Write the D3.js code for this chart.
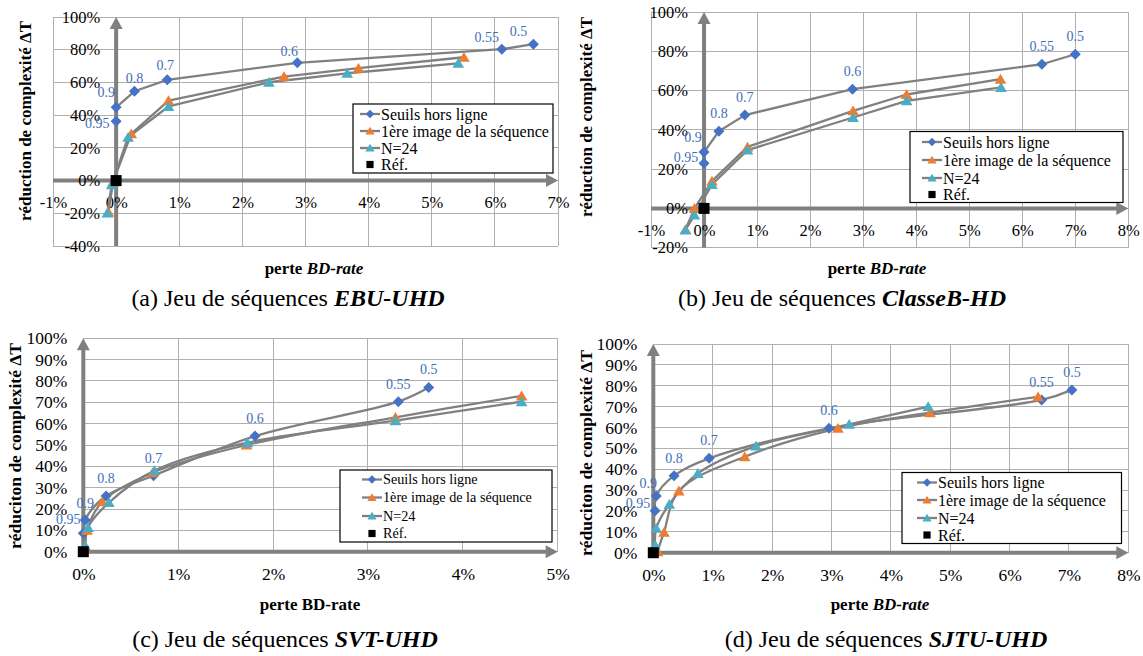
<!DOCTYPE html>
<html><head><meta charset="utf-8">
<script src="https://cdn.jsdelivr.net/npm/d3@7"></script>
<style>
body{margin:0;background:#fff}
text{font-family:"Liberation Serif","Times New Roman",serif}
</style>
</head><body>
<svg id="chart" width="1143" height="656" font-family="Liberation Serif, Times New Roman, serif"></svg>
<script>
// ---------------- DATA ----------------
const seriesNames = ["Seuils hors ligne", "1ère image de la séquence", "N=24", "Réf."];
const thresholdLabels = ["0.95", "0.9", "0.8", "0.7", "0.6", "0.55", "0.5"];
const refX = [0];
const refY = [0];

// (a) EBU-UHD
const ebuXTicks = [-1, 0, 1, 2, 3, 4, 5, 6, 7];
const ebuYTicks = [-40, -20, 0, 20, 40, 60, 80, 100];
const ebuSeuilsX = [0, 0, 0.29, 0.81, 2.87, 6.11, 6.61];
const ebuSeuilsY = [36.3, 44.8, 54.6, 61.6, 72.0, 80.3, 83.4];
const ebuPremiereX = [-0.12, -0.05, 0.24, 0.83, 2.66, 3.84, 5.51];
const ebuPremiereY = [-19.4, -1, 28.6, 48.9, 63.6, 68.7, 75.4];
const ebuN24X = [-0.14, -0.07, 0.19, 0.83, 2.42, 3.66, 5.42];
const ebuN24Y = [-19.8, -2.6, 26.5, 45.3, 60.1, 65.6, 71.7];

// (b) ClasseB-HD
const clbXTicks = [-1, 0, 1, 2, 3, 4, 5, 6, 7, 8];
const clbYTicks = [-20, 0, 20, 40, 60, 80, 100];
const clbSeuilsX = [0, 0, 0.28, 0.77, 2.8, 6.37, 7.0];
const clbSeuilsY = [23, 28.7, 39.3, 47.5, 60.7, 73.4, 78.5];
const clbPremiereX = [-0.35, -0.18, 0.15, 0.82, 2.81, 3.82, 5.59];
const clbPremiereY = [-10.7, 0, 13.9, 31.3, 49.7, 58, 65.8];
const clbN24X = [-0.35, -0.18, 0.15, 0.82, 2.81, 3.82, 5.6];
const clbN24Y = [-11, -3.4, 12.2, 29.7, 46.3, 54.8, 61.6];

// (c) SVT-UHD
const svtXTicks = [0, 1, 2, 3, 4, 5];
const svtYTicks = [0, 10, 20, 30, 40, 50, 60, 70, 80, 90, 100];
const svtSeuilsX = [0, 0.02, 0.24, 0.74, 1.81, 3.32, 3.64];
const svtSeuilsY = [8.6, 14.9, 26.1, 35.6, 54.2, 70.3, 76.9];
const svtPremiereX = [0.02, 0.04, 0.2, 0.73, 1.72, 3.29, 4.62];
const svtPremiereY = [1, 10, 23.4, 37, 50, 63, 73];
const svtN24X = [0.02, 0.05, 0.27, 0.75, 1.73, 3.29, 4.62];
const svtN24Y = [2.8, 11.4, 23, 38, 51.1, 61.4, 70.3];

// (d) SJTU-UHD
const sjtuXTicks = [0, 1, 2, 3, 4, 5, 6, 7, 8];
const sjtuYTicks = [0, 10, 20, 30, 40, 50, 60, 70, 80, 90, 100];
const sjtuSeuilsX = [0.03, 0.05, 0.35, 0.94, 2.96, 6.54, 7.05];
const sjtuSeuilsY = [20.1, 27.2, 36.9, 45.2, 59.6, 73.2, 78];
const sjtuPremiereX = [0.07, 0.18, 0.43, 1.54, 3.11, 4.66, 6.48];
const sjtuPremiereY = [0.5, 9.8, 29.6, 46, 59.6, 67.1, 74.7];
const sjtuN24X = [0.03, 0.05, 0.27, 0.75, 1.73, 3.3, 4.63];
const sjtuN24Y = [3.7, 11.7, 23.2, 38, 51.1, 61.5, 70];

// ---------------- STYLE / LAYOUT ----------------
const COL = {blue: "#4472C4", orange: "#ED7D31", cyan: "#4BACC6", line: "#808080", grid: "#b0b0b0", axis: "#808080", label: "#4170B8"};

const panels = [
  {
    xr: [53, 558], yr: [246, 17], xTicks: ebuXTicks, yTicks: ebuYTicks,
    series: [[ebuSeuilsX, ebuSeuilsY], [ebuPremiereX, ebuPremiereY], [ebuN24X, ebuN24Y]],
    smooth: false, tickFont: 16.5,
    legend: {x: 353, y: 104, w: 200, h: 69, lx: 360, rows: [114, 131, 148, 164.5], font: 16},
    yTitle: {x: 25, y: 121, text: "réduction de complexité ΔT", size: 17},
    xTitle: {x: 314, y: 274, italic: true, size: 17},
    caption: {x: 288, y: 306, prefix: "(a) Jeu de séquences ", name: "EBU-UHD"},
    labelOff: {"0.95": [-19, 2], "0.9": [-10, -15], "0.8": [0, -13], "0.7": [-2, -15], "0.6": [-8, -12], "0.55": [-15, -12], "0.5": [-15, -13]}
  },
  {
    xr: [651, 1128.3], yr: [247.7, 12], xTicks: clbXTicks, yTicks: clbYTicks,
    series: [[clbSeuilsX, clbSeuilsY], [clbPremiereX, clbPremiereY], [clbN24X, clbN24Y]],
    smooth: false, tickFont: 16.5,
    legend: {x: 910, y: 131.5, w: 213, h: 71, lx: 922, rows: [142, 160, 178, 194.5], font: 16},
    yTitle: {x: 586, y: 117, text: "réduction de complexité ΔT", size: 17},
    xTitle: {x: 877, y: 274, italic: true, size: 17},
    caption: {x: 842, y: 306, prefix: "(b) Jeu de séquences ", name: "ClasseB-HD"},
    labelOff: {"0.95": [-18, -6], "0.9": [-11, -15]}
  },
  {
    xr: [83.3, 557.7], yr: [551.7, 338.3], xTicks: svtXTicks, yTicks: svtYTicks,
    series: [[svtSeuilsX, svtSeuilsY], [svtPremiereX, svtPremiereY], [svtN24X, svtN24Y]],
    smooth: true, tickFont: 17.5,
    legend: {x: 340, y: 470, w: 212, h: 72, lx: 362, rows: [479.5, 497.5, 516, 533.5], font: 14.2},
    yTitle: {x: 15, y: 446, text: "réduciton de complexité ΔT", size: 17.5},
    xTitle: {x: 310, y: 610, italic: false, size: 17},
    caption: {x: 285, y: 647, prefix: "(c) Jeu de séquences ", name: "SVT-UHD"},
    labelOff: {"0.95": [-15, -14], "0.9": [0, -17]}
  },
  {
    xr: [653.3, 1128.3], yr: [552.7, 344], xTicks: sjtuXTicks, yTicks: sjtuYTicks,
    series: [[sjtuSeuilsX, sjtuSeuilsY], [sjtuPremiereX, sjtuPremiereY], [sjtuN24X, sjtuN24Y]],
    smooth: true, tickFont: 17.5,
    legend: {x: 902, y: 472.5, w: 219.5, h: 71, lx: 917, rows: [482.5, 500, 518, 535], font: 16},
    yTitle: {x: 586, y: 453, text: "réduciton de complexité ΔT", size: 17.5},
    xTitle: {x: 880, y: 610, italic: true, size: 17},
    caption: {x: 886, y: 647, prefix: "(d) Jeu de séquences ", name: "SJTU-UHD"},
    labelOff: {"0.95": [-17, -8], "0.9": [-8, -13]}
  }
];

const seriesColors = [COL.blue, COL.orange, COL.cyan];
const seriesShapes = ["diamond", "triangle", "triangle"];

function markerPath(shape, r) {
  if (shape === "diamond") return `M0,${-r}L${r},0L0,${r}L${-r},0Z`;
  if (shape === "triangle") return `M0,${-r}L${r * 1.1},${r * 0.85}L${-r * 1.1},${r * 0.85}Z`;
  return `M${-r},${-r}H${r}V${r}H${-r}Z`;
}

const svg = d3.select("#chart");
svg.append("rect").attr("width", 1143).attr("height", 656).attr("fill", "#fff");

panels.forEach(p => {
  const g = svg.append("g");
  const x = d3.scaleLinear().domain(d3.extent(p.xTicks)).range(p.xr);
  const y = d3.scaleLinear().domain(d3.extent(p.yTicks)).range(p.yr);
  const [x0, x1] = p.xr, [yb, yt] = p.yr;

  // grid
  const grid = g.append("g").attr("stroke", COL.grid).attr("stroke-width", 1).attr("shape-rendering", "crispEdges");
  p.xTicks.forEach(t => grid.append("line").attr("x1", x(t)).attr("x2", x(t)).attr("y1", yb).attr("y2", yt));
  p.yTicks.forEach(t => grid.append("line").attr("x1", x0).attr("x2", x1).attr("y1", y(t)).attr("y2", y(t)));

  // axis arrows
  const ax = g.append("g").attr("fill", COL.axis).attr("stroke", COL.axis);
  const xz = x(0), yz = y(0), head = 12, hw = 6.5;
  ax.append("line").attr("x1", xz).attr("x2", xz).attr("y1", yb).attr("y2", yt + head - 1).attr("stroke-width", 4);
  ax.append("path").attr("stroke", "none").attr("d", `M${xz},${yt}L${xz + hw},${yt + head}L${xz - hw},${yt + head}Z`);
  ax.append("line").attr("x1", x0).attr("x2", x1 - head + 1).attr("y1", yz).attr("y2", yz).attr("stroke-width", 4);
  ax.append("path").attr("stroke", "none").attr("d", `M${x1},${yz}L${x1 - head},${yz - hw}L${x1 - head},${yz + hw}Z`);

  // tick labels
  const yAx = g.append("g").attr("transform", `translate(${xz},0)`)
    .call(d3.axisLeft(y).tickValues(p.yTicks).tickFormat(d => d + "%").tickSize(0).tickPadding(16));
  yAx.select(".domain").remove();
  yAx.attr("font-family", null).attr("font-size", null);
  yAx.selectAll("text").attr("font-size", p.tickFont).attr("fill", "#000");

  const xAx = g.append("g").attr("transform", `translate(0,${yz})`)
    .call(d3.axisBottom(x).tickValues(p.xTicks).tickFormat(d => d + "%").tickSize(0).tickPadding(16));
  xAx.select(".domain").remove();
  xAx.attr("font-family", null).attr("font-size", null);
  xAx.selectAll("text").attr("font-size", p.tickFont).attr("fill", "#000");

  // series
  const line = d3.line().x(d => x(d[0])).y(d => y(d[1]))
    .curve(p.smooth ? d3.curveCatmullRom.alpha(0.5) : d3.curveLinear);
  p.series.forEach((s, i) => {
    const pts = s[0].map((v, k) => [v, s[1][k]]);
    g.append("path").datum(pts).attr("d", line).attr("fill", "none")
      .attr("stroke", COL.line).attr("stroke-width", 2.3).attr("stroke-linejoin", "round");
  });
  p.series.forEach((s, i) => {
    const pts = s[0].map((v, k) => [v, s[1][k]]);
    g.selectAll(null).data(pts).enter().append("path")
      .attr("transform", d => `translate(${x(d[0])},${y(d[1])})`)
      .attr("d", markerPath(seriesShapes[i], i === 0 ? 5.5 : 5.3))
      .attr("fill", seriesColors[i]);
  });
  // reference
  g.selectAll(null).data(refX.map((v, k) => [v, refY[k]])).enter().append("path")
    .attr("transform", d => `translate(${x(d[0])},${y(d[1])})`)
    .attr("d", markerPath("square", 5.5)).attr("fill", "#000");

  // data labels
  const s0 = p.series[0];
  thresholdLabels.forEach((lab, k) => {
    const off = p.labelOff[lab] || [0, -18];
    g.append("text").attr("x", x(s0[0][k]) + off[0]).attr("y", y(s0[1][k]) + off[1])
      .attr("dy", "0.35em").attr("text-anchor", "middle").attr("font-size", 14)
      .attr("fill", COL.label).text(lab);
  });

  // legend
  const L = p.legend;
  const lg = g.append("g");
  lg.append("rect").attr("x", L.x).attr("y", L.y).attr("width", L.w).attr("height", L.h)
    .attr("fill", "#fff").attr("stroke", "#000").attr("stroke-width", 1.2);
  seriesNames.forEach((name, i) => {
    const ry = L.rows[i];
    if (i < 3) {
      lg.append("line").attr("x1", L.lx).attr("x2", L.lx + 20).attr("y1", ry).attr("y2", ry)
        .attr("stroke", COL.line).attr("stroke-width", 2.3);
      lg.append("path").attr("transform", `translate(${L.lx + 10},${ry})`)
        .attr("d", markerPath(seriesShapes[i], 4.2)).attr("fill", seriesColors[i]);
    } else {
      lg.append("path").attr("transform", `translate(${L.lx + 10},${ry})`)
        .attr("d", markerPath("square", 3.6)).attr("fill", "#000");
    }
    lg.append("text").attr("x", L.lx + 21).attr("y", ry).attr("dy", "0.35em")
      .attr("font-size", L.font).attr("fill", "#000").text(name);
  });

  // axis titles
  g.append("text").attr("transform", `translate(${p.yTitle.x},${p.yTitle.y}) rotate(-90)`)
    .attr("text-anchor", "middle").attr("dy", "0.35em").attr("font-weight", "bold")
    .attr("font-size", p.yTitle.size).text(p.yTitle.text);
  const xt = g.append("text").attr("x", p.xTitle.x).attr("y", p.xTitle.y)
    .attr("text-anchor", "middle").attr("font-weight", "bold").attr("font-size", p.xTitle.size);
  xt.append("tspan").text("perte ");
  xt.append("tspan").attr("font-style", p.xTitle.italic ? "italic" : "normal").text("BD-rate");

  // caption
  const cp = g.append("text").attr("x", p.caption.x).attr("y", p.caption.y)
    .attr("text-anchor", "middle").attr("font-size", 24);
  cp.append("tspan").text(p.caption.prefix);
  cp.append("tspan").attr("font-weight", "bold").attr("font-style", "italic").text(p.caption.name);
});
</script>
</body></html>
